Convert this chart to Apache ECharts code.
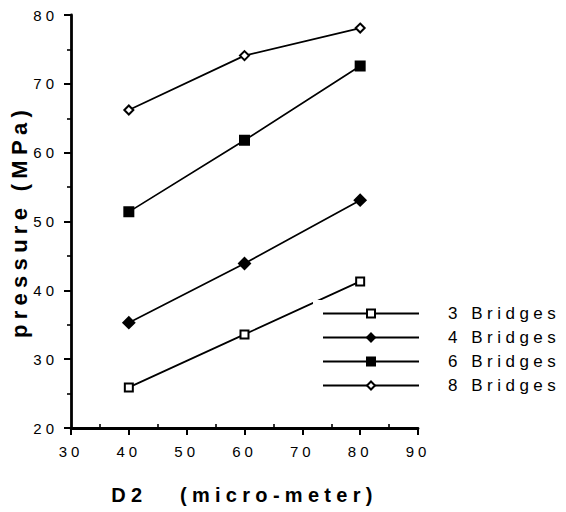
<!DOCTYPE html>
<html>
<head>
<meta charset="utf-8">
<script src="https://cdn.jsdelivr.net/npm/echarts@6/dist/echarts.min.js"></script>
<style>
html,body{margin:0;padding:0;background:#fff}
#c{width:566px;height:512px}
#c text[style*="15px"]{letter-spacing:4px}
#c text[style*="17px"]{letter-spacing:4.5px}
#c text[style*="bold"]{letter-spacing:5.3px}
</style>
</head>
<body>
<div id="c"></div>
<script>
const xValues = [40, 60, 80];
const bridges3 = [25.9, 33.6, 41.3];
const bridges4 = [35.3, 43.9, 53.1];
const bridges6 = [51.4, 61.8, 72.6];
const bridges8 = [66.2, 74.1, 78.1];
const seriesNames = ['3 Bridges', '4 Bridges', '6 Bridges', '8 Bridges'];
const xTicks = [30, 40, 50, 60, 70, 80, 90];
const yTicks = [20, 30, 40, 50, 60, 70, 80];

const font = 'Liberation Sans, Arial, sans-serif';
function pairs(vals) { return xValues.map((x, i) => [x, vals[i]]); }
function mk(name, vals, symbol, size) {
  return {
    name: name, type: 'line', data: pairs(vals),
    symbol: symbol, symbolSize: size,
    lineStyle: { color: '#000', width: 1.7 },
    itemStyle: { color: '#000', borderColor: '#000', borderWidth: 2 },
    emphasis: { disabled: true }, animation: false
  };
}
const chart = echarts.init(document.getElementById('c'), null, { renderer: 'svg' });
chart.setOption({
  backgroundColor: '#fff',
  animation: false,
  grid: { left: 71, right: 148, top: 15, bottom: 84 },
  xAxis: [{
    type: 'value', min: 30, max: 90, interval: 10,
    name: 'D2   (micro-meter)', nameLocation: 'middle', nameGap: 57,
    nameTextStyle: { fontFamily: font, fontWeight: 'bold', fontSize: 20, color: '#000' },
    axisLine: { lineStyle: { color: '#000', width: 2.8 } },
    axisTick: { show: true, length: 7, lineStyle: { color: '#000', width: 2 } },
    splitLine: { show: false },
    axisLabel: { fontFamily: font, fontSize: 15, color: '#000', margin: 16,
      formatter: v => xTicks.includes(v) ? String(v) : '' }
  }, {
    type: 'value', min: 30, max: 90, interval: 10, position: 'bottom',
    axisLine: { show: false },
    axisTick: { show: false, inside: true },
    minorTick: { show: true, splitNumber: 2, length: 4, lineStyle: { color: '#000', width: 1.6 } },
    splitLine: { show: false }, axisLabel: { show: false }
  }],
  yAxis: {
    type: 'value', min: 20, max: 80, interval: 10,
    name: 'pressure (MPa)', nameLocation: 'middle', nameGap: 23,
    nameTextStyle: { fontFamily: font, fontWeight: 'bold', fontSize: 22, color: '#000' },
    axisLine: { show: true, lineStyle: { color: '#000', width: 2.8 } },
    axisTick: { show: true, length: 7, lineStyle: { color: '#000', width: 2 } },
    minorTick: { show: true, splitNumber: 2, length: 4, lineStyle: { color: '#000', width: 1.6 } },
    splitLine: { show: false },
    axisLabel: { fontFamily: font, fontSize: 15, color: '#000', margin: 13,
      formatter: v => yTicks.includes(v) ? String(v) : '' }
  },
  legend: {
    orient: 'vertical', left: 313, top: 300,
    backgroundColor: '#fff', padding: [5, 5, 5, 9],
    itemWidth: 96, itemHeight: 10, itemGap: 7,
    data: seriesNames,
    textStyle: { fontFamily: font, fontSize: 17, color: '#000', padding: [0, 0, 0, 24] }
  },
  series: [
    mk(seriesNames[0], bridges3, 'emptyRect', 8),
    mk(seriesNames[1], bridges4, 'diamond', 11),
    mk(seriesNames[2], bridges6, 'rect', 9),
    mk(seriesNames[3], bridges8, 'emptyDiamond', 9)
  ]
});
</script>
</body>
</html>
